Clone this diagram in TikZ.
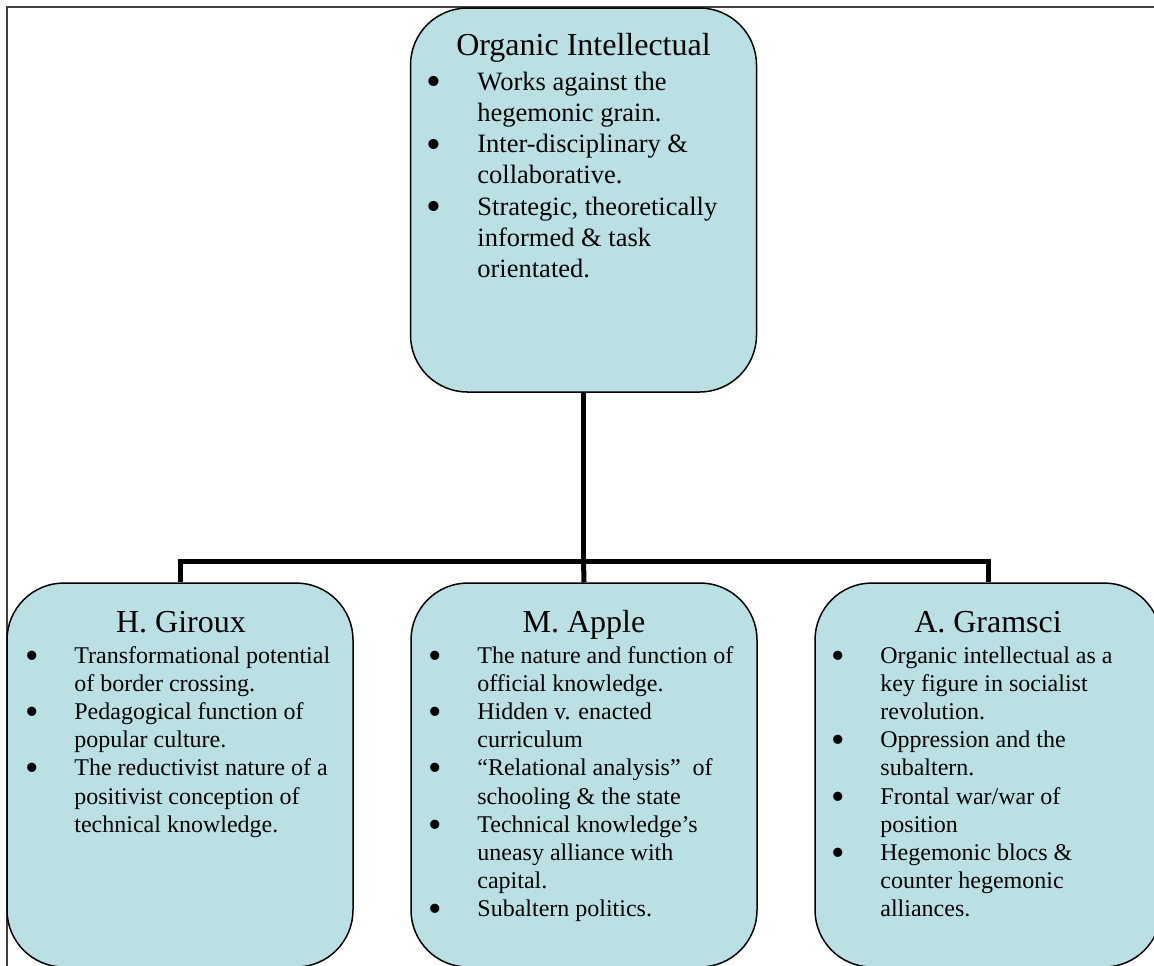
\documentclass[tikz,border=0pt]{standalone}
\usepackage{graphicx}
\usepackage{fontspec}
\setmainfont{Liberation Serif}
\definecolor{boxfill}{RGB}{186,224,228}
\definecolor{framegray}{RGB}{64,64,64}
\newcommand{\bl}{\llap{\raisebox{-0.21em}{\scalebox{1.6}{\textbullet}}\hspace{17.8pt}}}
\tikzset{
  orgbox/.style={draw=black, line width=0.75pt, fill=boxfill, rounded corners=28.5pt,
    minimum width=173pt, minimum height=192pt, inner sep=0pt},
  titletext/.style={anchor=base, inner sep=0pt, font=\fontsize{16}{19}\selectfont},
  toptext/.style={anchor=base west, inner sep=0pt, font=\fontsize{13.25}{15.65}\selectfont},
  bottext/.style={anchor=base west, inner sep=0pt, font=\fontsize{12}{14.1}\selectfont},
  link/.style={draw=black, line width=2.5pt},
  pageframe/.style={draw=framegray, line width=1pt}
}
\begin{document}
\begin{tikzpicture}[x=0.5pt, y=-0.5pt]
\useasboundingbox (0,0) rectangle (1154,965);
\clip (0,0) rectangle (1154,965);
\draw[pageframe] (7,966) -- (7,7) -- (1155,7);

\node[orgbox] (top) at (583.5,200) {};
\node[orgbox] (giroux) at (180,775) {};
\node[orgbox] (apple) at (584,775) {};
\node[orgbox] (gramsci) at (988,775) {};

\coordinate (j) at (583.5,561);
\draw[link] (top.south) -- (j);
\draw[link] (j) -| (giroux.north);
\draw[link] (j) -| (gramsci.north);
\draw[link] (j) -- (apple.north);

\node[titletext] (topT) at (583.5,55) {Organic Intellectual};
\node[toptext] (topL) at (477,90) {\renewcommand{\arraystretch}{1}\begin{tabular}[t]{@{}l@{}}
\bl Works against the\\
hegemonic grain.\\
\bl Inter-disciplinary \&\\
collaborative.\\
\bl Strategic, theoretically\\
informed \& task\\
orientated.
\end{tabular}};

\node[titletext] (girouxT) at (181,632) {H. Giroux};
\node[bottext] (girouxL) at (74,663) {\renewcommand{\arraystretch}{1}\begin{tabular}[t]{@{}l@{}}
\bl Transformational potential\\
of border crossing.\\
\bl Pedagogical function of\\
popular culture.\\
\bl The reductivist nature of a\\
positivist conception of\\
technical knowledge.
\end{tabular}};

\node[titletext] (appleT) at (584,632) {M. Apple};
\node[bottext] (appleL) at (477,663) {\renewcommand{\arraystretch}{1}\begin{tabular}[t]{@{}l@{}}
\bl The nature and function of\\
official knowledge.\\
\bl Hidden v. enacted\\
curriculum\\
\bl “Relational analysis”\ \ of\\
schooling \& the state\\
\bl Technical knowledge’s\\
uneasy alliance with\\
capital.\\
\bl Subaltern politics.
\end{tabular}};

\node[titletext] (gramsciT) at (988,632) {A. Gramsci};
\node[bottext] (gramsciL) at (880,663) {\renewcommand{\arraystretch}{1}\begin{tabular}[t]{@{}l@{}}
\bl Organic intellectual as a\\
key figure in socialist\\
revolution.\\
\bl Oppression and the\\
subaltern.\\
\bl Frontal war/war of\\
position\\
\bl Hegemonic blocs \&\\
counter hegemonic\\
alliances.
\end{tabular}};
\end{tikzpicture}
\end{document}
